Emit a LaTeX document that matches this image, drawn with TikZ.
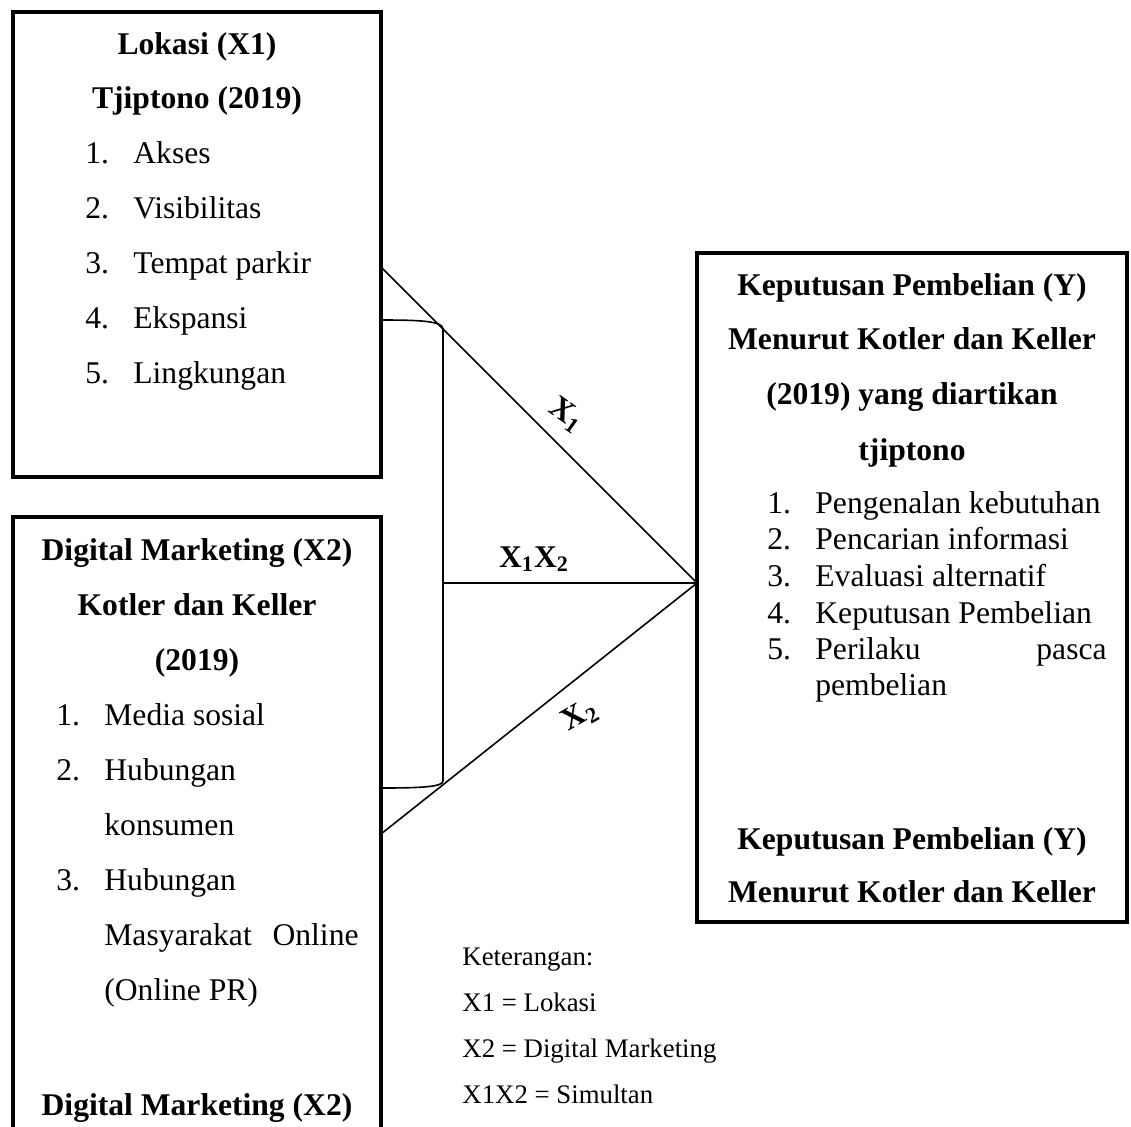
\documentclass[tikz,border=0pt]{standalone}
\usepackage{fontspec}
\setmainfont{Liberation Serif}
\newcommand{\mainfs}{\fontsize{15.8}{19}\selectfont}
\newcommand{\legfs}{\fontsize{13.4}{16}\selectfont}
\begin{document}
\begin{tikzpicture}[x=0.5pt,y=-0.5pt,
  boxst/.style={draw,line width=2pt,inner sep=0pt,outer sep=0pt},
  conn/.style={draw,line width=0.8pt},
  txt/.style={font=\mainfs,inner sep=0pt,anchor=base west},
  txtr/.style={font=\mainfs,inner sep=0pt,anchor=base east},
  hd/.style={font=\mainfs\bfseries,inner sep=0pt,anchor=base},
  leg/.style={font=\legfs,inner sep=0pt,anchor=base west},
  lab/.style={font=\mainfs\bfseries,inner sep=0pt}]
\useasboundingbox (0,0) rectangle (1131,1126);
\clip (0,0) rectangle (1131,1126);
% boxes
\node[boxst,minimum width=184pt,minimum height=232.5pt] (box1) at (197,244.5) {};
\node[boxst,minimum width=184pt,minimum height=323pt] (box2) at (197,840) {};
\node[boxst,minimum width=215pt,minimum height=334.5pt] (box3) at (912,587.5) {};
% connector points
\coordinate (j) at (box3.west |- 0,583);
\coordinate (p1) at (box1.east |- 0,267);
\coordinate (p2) at (box2.east |- 0,834);
\coordinate (b1) at (box1.east |- 0,320);
\coordinate (b2) at (box2.east |- 0,788);
\coordinate (bv) at (443,583);
\draw[conn] (p1) -- (j);
\draw[conn] (p2) -- (j);
\draw[conn] (bv) -- (j);
\draw[conn] (b1) .. controls (420,320) and (443,321) .. (443,329) -- (443,781) .. controls (443,787) and (420,788) .. (b2);
% connector labels
\node[lab,rotate=-35] (lx1) at (566,415) {X\textsubscript{1}};
\node[lab,rotate=30] (lx2) at (580,716) {X\textsubscript{2}};
\node[lab,anchor=base] (lx12) at (534,567) {X\textsubscript{1}X\textsubscript{2}};
% box 1 text
\node[hd] (h11) at (197,54) {Lokasi (X1)};
\node[hd] (h12) at (197,108) {Tjiptono (2019)};
\node[txt] (n11) at (85,163) {1.};  \node[txt] (t11) at (133,163) {Akses};
\node[txt] (n12) at (85,218) {2.};  \node[txt] (t12) at (133,218) {Visibilitas};
\node[txt] (n13) at (85,273) {3.};  \node[txt] (t13) at (133,273) {Tempat parkir};
\node[txt] (n14) at (85,328) {4.};  \node[txt] (t14) at (133,328) {Ekspansi};
\node[txt] (n15) at (85,383) {5.};  \node[txt] (t15) at (133,383) {Lingkungan};
% box 2 text
\node[hd] (h21) at (197,560) {Digital Marketing (X2)};
\node[hd] (h22) at (197,615) {Kotler dan Keller};
\node[hd] (h23) at (197,670) {(2019)};
\node[txt] (n21) at (56,725) {1.};  \node[txt] (t21) at (104,725) {Media sosial};
\node[txt] (n22) at (56,780) {2.};  \node[txt] (t22) at (104,780) {Hubungan};
\node[txt] (t22b) at (104,835) {konsumen};
\node[txt] (n23) at (56,890) {3.};  \node[txt] (t23) at (104,890) {Hubungan};
\node[txt] (t23b) at (104,945) {Masyarakat};
\node[txtr] (t23c) at (359,945) {Online};
\node[txt] (t23d) at (104,1000) {(Online PR)};
\node[hd] (h24) at (197,1115) {Digital Marketing (X2)};
% box 3 text
\node[hd] (h31) at (912,295) {Keputusan Pembelian (Y)};
\node[hd] (h32) at (912,349) {Menurut Kotler dan Keller};
\node[hd] (h33) at (912,404) {(2019) yang diartikan};
\node[hd] (h34) at (912,460) {tjiptono};
\node[txt] (n31) at (767,513) {1.};  \node[txt] (t31) at (815,513) {Pengenalan kebutuhan};
\node[txt] (n32) at (767,549) {2.};  \node[txt] (t32) at (815,549) {Pencarian informasi};
\node[txt] (n33) at (767,586) {3.};  \node[txt] (t33) at (815,586) {Evaluasi alternatif};
\node[txt] (n34) at (767,623) {4.};  \node[txt] (t34) at (815,623) {Keputusan Pembelian};
\node[txt] (n35) at (767,659) {5.};  \node[txt] (t35) at (815,659) {Perilaku};
\node[txtr] (t35b) at (1107,659) {pasca};
\node[txt] (t35c) at (815,695) {pembelian};
\node[hd] (h35) at (912,849) {Keputusan Pembelian (Y)};
\node[hd] (h36) at (912,902) {Menurut Kotler dan Keller};
% legend
\node[leg] (k0) at (462,965) {Keterangan:};
\node[leg] (k1) at (462,1011) {X1 = Lokasi};
\node[leg] (k2) at (462,1057) {X2 = Digital Marketing};
\node[leg] (k3) at (462,1103) {X1X2 = Simultan};
\end{tikzpicture}
\end{document}
